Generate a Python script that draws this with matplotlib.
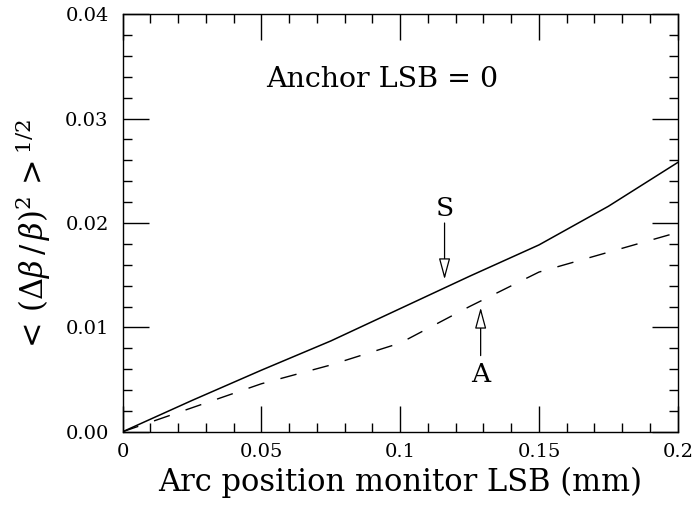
import matplotlib
matplotlib.use("Agg")
import matplotlib.pyplot as plt
from matplotlib.ticker import MultipleLocator, FixedFormatter, FixedLocator

# data
x_vals = [0, 0.025, 0.05, 0.075, 0.1, 0.125, 0.15, 0.175, 0.2]
s_vals = [0, 0.0030, 0.0059, 0.0087, 0.0118, 0.0149, 0.0179, 0.0216, 0.0258]
a_vals = [0, 0.0023, 0.0046, 0.0064, 0.0085, 0.0120, 0.0153, 0.0172, 0.0191]
x_ticks = [0, 0.05, 0.1, 0.15, 0.2]
x_ticklabels = ["0", "0.05", "0.1", "0.15", "0.2"]
y_ticks = [0, 0.01, 0.02, 0.03, 0.04]
y_ticklabels = ["0.00", "0.01", "0.02", "0.03", "0.04"]

plt.rcParams['font.family'] = ['DejaVu Serif']
plt.rcParams['mathtext.fontset'] = 'dejavuserif'

fig = plt.figure(figsize=(6.93, 5.08), dpi=100)
ax = fig.add_axes([0.1768, 0.150, 0.978 - 0.1768, 0.972 - 0.150])

ax.plot(x_vals, s_vals, color='black', lw=1.1, solid_joinstyle='miter')
ax.plot(x_vals, a_vals, color='black', lw=1.0, dashes=(12, 12))

ax.set_xlim(0, 0.2)
ax.set_ylim(0, 0.04)
ax.xaxis.set_major_locator(FixedLocator(x_ticks))
ax.xaxis.set_major_formatter(FixedFormatter(x_ticklabels))
ax.yaxis.set_major_locator(FixedLocator(y_ticks))
ax.yaxis.set_major_formatter(FixedFormatter(y_ticklabels))
ax.xaxis.set_minor_locator(MultipleLocator(0.01))
ax.yaxis.set_minor_locator(MultipleLocator(0.002))
ax.tick_params(which='both', direction='in', top=True, right=True, width=1.0, labelsize=14)
ax.tick_params(which='major', length=18.5, pad=8)
ax.tick_params(axis='y', which='major', pad=10)
ax.tick_params(which='minor', length=6.5)
for sp in ax.spines.values():
    sp.set_linewidth(1.0)

ax.set_xlabel('Arc position monitor LSB (mm)', fontsize=22, labelpad=4)
ax.set_ylabel(r'$<\,(\Delta\beta\,/\,\beta)^2\,>^{1/2}$', fontsize=22)
ax.yaxis.set_label_coords(-0.125, 0.47)

ax.text(0.0936, 0.0337, 'Anchor LSB = 0', fontsize=20.5, ha='center', va='center')

# S arrow
ax.text(0.116, 0.0214, 'S', fontsize=19, ha='center', va='center')
ax.annotate('', xy=(0.116, 0.0146), xytext=(0.116, 0.0200),
            arrowprops=dict(arrowstyle='-|>,head_length=1.3,head_width=0.35', fc='white', ec='black', lw=0.9,
                            shrinkA=0, shrinkB=0))
# A arrow
ax.text(0.129, 0.0055, 'A', fontsize=19, ha='center', va='center')
ax.annotate('', xy=(0.129, 0.0119), xytext=(0.129, 0.0073),
            arrowprops=dict(arrowstyle='-|>,head_length=1.3,head_width=0.35', fc='white', ec='black', lw=0.9,
                            shrinkA=0, shrinkB=0))

fig.savefig('out.png', dpi=100)
